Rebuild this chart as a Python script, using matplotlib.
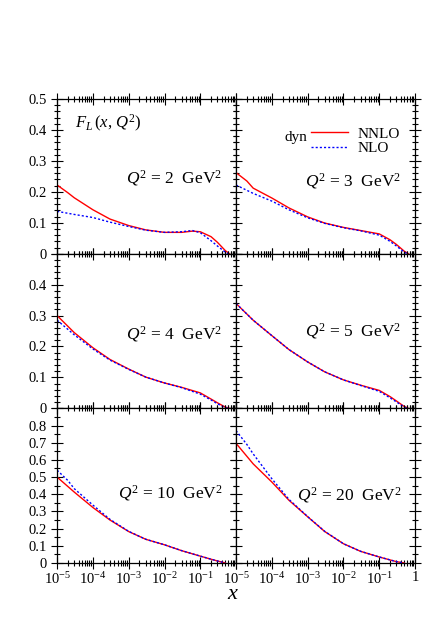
import numpy as np
import matplotlib.pyplot as plt
from matplotlib.ticker import LogLocator, MultipleLocator, NullFormatter, FixedLocator

plt.rcParams['font.family'] = ['Liberation Serif', 'DejaVu Serif']
plt.rcParams['mathtext.fontset'] = 'custom'
plt.rcParams['mathtext.rm'] = 'Liberation Serif'
plt.rcParams['mathtext.it'] = 'Liberation Serif:italic'
plt.rcParams['mathtext.bf'] = 'Liberation Serif:bold'

# values
q2_values = ['2', '3', '4', '5', '10', '20']

x_nnlo = [
    [1e-5, 2e-5, 3e-5, 1e-4, 3e-4, 1e-3, 3e-3, 1e-2, 3e-2, 6e-2, 0.1, 0.2, 0.3, 0.5, 0.65],
    [1e-5, 2e-5, 3e-5, 1e-4, 3e-4, 1e-3, 3e-3, 1e-2, 3e-2, 0.1, 0.2, 0.3, 0.5, 0.65],
    [1e-5, 3e-5, 1e-4, 3e-4, 1e-3, 3e-3, 1e-2, 3e-2, 0.1, 0.2, 0.3, 0.5, 0.65],
    [1e-5, 3e-5, 1e-4, 3e-4, 1e-3, 3e-3, 1e-2, 3e-2, 0.1, 0.2, 0.3, 0.5, 0.65],
    [1e-5, 3e-5, 1e-4, 3e-4, 1e-3, 3e-3, 1e-2, 3e-2, 0.1, 0.2, 0.3, 0.5],
    [1e-5, 3e-5, 1e-4, 3e-4, 1e-3, 3e-3, 1e-2, 3e-2, 0.1, 0.2, 0.3, 0.5],
]
f_nnlo = [
    [0.222, 0.197, 0.181, 0.142, 0.112, 0.091, 0.077, 0.069, 0.069, 0.073, 0.071, 0.055, 0.037, 0.010, 0.0],
    [0.262, 0.235, 0.212, 0.180, 0.148, 0.119, 0.099, 0.085, 0.075, 0.064, 0.045, 0.030, 0.008, 0.0],
    [0.300, 0.245, 0.196, 0.158, 0.127, 0.101, 0.082, 0.068, 0.050, 0.030, 0.018, 0.004, 0.0],
    [0.339, 0.285, 0.235, 0.190, 0.150, 0.118, 0.092, 0.075, 0.058, 0.038, 0.024, 0.006, 0.0],
    [0.500, 0.413, 0.323, 0.250, 0.183, 0.138, 0.106, 0.072, 0.040, 0.022, 0.012, 0.0],
    [0.696, 0.577, 0.471, 0.365, 0.269, 0.183, 0.112, 0.068, 0.035, 0.018, 0.008, 0.0],
]

x_nlo = [
    [1e-5, 3e-5, 1e-4, 3e-4, 1e-3, 3e-3, 1e-2, 3e-2, 6e-2, 0.1, 0.2, 0.3, 0.5, 0.6],
    [1e-5, 3e-5, 1e-4, 3e-4, 1e-3, 3e-3, 1e-2, 3e-2, 0.1, 0.2, 0.3, 0.5, 0.6],
    [1e-5, 3e-5, 1e-4, 3e-4, 1e-3, 3e-3, 1e-2, 3e-2, 0.1, 0.2, 0.3, 0.5, 0.6],
    [1e-5, 3e-5, 1e-4, 3e-4, 1e-3, 3e-3, 1e-2, 3e-2, 0.1, 0.2, 0.3, 0.5, 0.6],
    [1e-5, 2e-5, 3e-5, 1e-4, 3e-4, 1e-3, 3e-3, 1e-2, 3e-2, 0.1, 0.2, 0.3, 0.5],
    [1e-5, 2e-5, 3e-5, 1e-4, 3e-4, 1e-3, 3e-3, 1e-2, 3e-2, 0.1, 0.2, 0.3, 0.5],
]
f_nlo = [
    [0.137, 0.127, 0.117, 0.102, 0.088, 0.076, 0.069, 0.071, 0.075, 0.068, 0.042, 0.025, 0.005, 0.0],
    [0.222, 0.195, 0.170, 0.142, 0.116, 0.098, 0.084, 0.074, 0.060, 0.040, 0.025, 0.005, 0.0],
    [0.285, 0.238, 0.192, 0.156, 0.126, 0.101, 0.082, 0.067, 0.046, 0.027, 0.015, 0.002, 0.0],
    [0.339, 0.285, 0.235, 0.190, 0.150, 0.118, 0.092, 0.074, 0.055, 0.034, 0.021, 0.004, 0.0],
    [0.540, 0.480, 0.433, 0.337, 0.254, 0.184, 0.138, 0.106, 0.072, 0.040, 0.022, 0.012, 0.0],
    [0.770, 0.690, 0.635, 0.490, 0.370, 0.270, 0.184, 0.112, 0.068, 0.035, 0.018, 0.008, 0.0],
]

row_ymax = [0.5, 0.5, 0.9]
row_label_max = [0.5, 0.4, 0.8]
x_ticks = [1e-5, 1e-4, 1e-3, 1e-2, 1e-1, 1]
x_ticklabels = ['$10^{-5}$', '$10^{-4}$', '$10^{-3}$', '$10^{-2}$', '$10^{-1}$', '1']
label_y = [0.49, 0.47, 0.48, 0.50, 0.45, 0.44]

fig, axes = plt.subplots(3, 2, figsize=(4.36, 6.23), dpi=100)
fig.subplots_adjust(left=0.131, right=0.952, top=0.841, bottom=0.0963,
                    hspace=0, wspace=0)

for i, ax in enumerate(axes.flat):
    row, col = divmod(i, 2)
    ax.plot(x_nnlo[i], f_nnlo[i], color='red', lw=1.0, label='NNLO')
    ax.plot(x_nlo[i], f_nlo[i], color='blue', lw=1.0, ls=(0, (1.5, 1.5)), label='NLO')
    ax.set_xscale('log')
    ax.set_xlim(1e-5, 1)
    ax.set_ylim(0, row_ymax[row])

    ax.xaxis.set_major_locator(FixedLocator(x_ticks))
    ax.xaxis.set_minor_locator(LogLocator(base=10, subs=np.arange(2, 10), numticks=20))
    ax.xaxis.set_minor_formatter(NullFormatter())
    ax.yaxis.set_major_locator(MultipleLocator(0.1))
    ax.yaxis.set_minor_locator(MultipleLocator(0.02 if row < 2 else 0.05))

    ax.tick_params(which='both', direction='inout', top=True, right=True,
                   labelsize=10.5, width=0.8)
    ax.tick_params(which='major', length=8)
    ax.tick_params(which='minor', length=4)
    for s in ax.spines.values():
        s.set_linewidth(0.9)

    if col == 0:
        ax.yaxis.set_major_formatter(plt.FuncFormatter(
            lambda v, p, r=row: ('0' if abs(v) < 1e-9 else f'{v:.1f}')
            if v <= row_label_max[r] + 1e-9 else ''))
    else:
        ax.tick_params(labelleft=False)

    if row == 2:
        labels = x_ticklabels if col == 1 else x_ticklabels[:-1] + ['']
        ax.set_xticklabels(labels)
        ax.tick_params(axis='x', pad=2)
    else:
        ax.tick_params(labelbottom=False)

    ax.text(0.925, label_y[i],
            '$Q^2$ = $\\mathit{' + q2_values[i] + '}$  GeV$^2$',
            transform=ax.transAxes, ha='right', va='center', fontsize=12.5)

axes[0, 0].text(0.10, 0.84, r'$F_L\,(x,\, Q^2)$', transform=axes[0, 0].transAxes,
                fontsize=12, ha='left', va='center')

leg = axes[0, 1].legend(loc='upper right', bbox_to_anchor=(0.95, 0.86), frameon=False,
                        fontsize=11, handlelength=2.4, labelspacing=0.05,
                        borderaxespad=0.0, handletextpad=0.65)
axes[0, 1].text(0.40, 0.75, 'dyn', transform=axes[0, 1].transAxes,
                fontsize=11, ha='right', va='center')

fig.text(0.5345, 0.045, '$x$', fontsize=16, ha='center', va='center')

fig.savefig('out.png', dpi=100)
